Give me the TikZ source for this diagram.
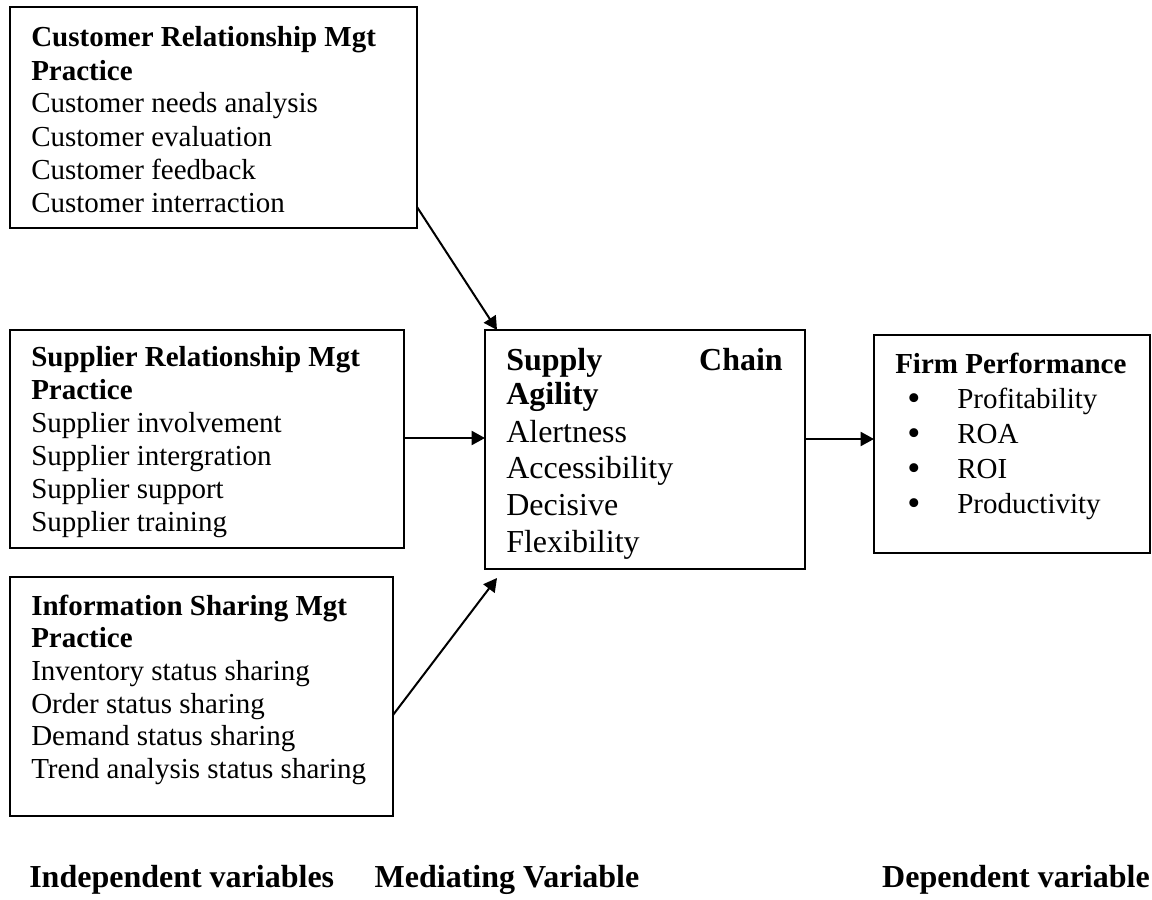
\documentclass[tikz,border=0pt]{standalone}
\usepackage{fontspec}
\setmainfont{Liberation Serif}
\usetikzlibrary{arrows.meta,calc}
\begin{document}
\begin{tikzpicture}[x=0.75pt,y=-0.75pt,
  box/.style={draw,line width=1.5pt,inner sep=0,outer sep=0,anchor=north west},
  txt/.style={inner sep=0,anchor=base west,font=\fontsize{21.75}{26}\selectfont},
  hd/.style={txt,font=\fontsize{21.75}{26}\selectfont\bfseries},
  bul/.style={inner sep=0,anchor=base,font=\fontsize{28}{30}\selectfont},
  mtxt/.style={inner sep=0,anchor=base west,font=\fontsize{24}{28}\selectfont},
  mhd/.style={mtxt,font=\fontsize{24}{28}\selectfont\bfseries},
  lab/.style={inner sep=0,font=\fontsize{24}{28}\selectfont\bfseries},
  arr/.style={line width=1.5pt,-{Triangle[length=10pt,width=10.5pt]}}]
\useasboundingbox (0,0) rectangle (1152,899);
% boxes
\node[box,minimum width=305.25pt,minimum height=165.75pt] (crm) at (10,7) {};
\node[box,minimum width=295.5pt,minimum height=163.5pt] (srm) at (10,330) {};
\node[box,minimum width=287.25pt,minimum height=179.25pt] (ism) at (10,577) {};
\node[box,minimum width=240pt,minimum height=179.25pt] (mid) at (485,330) {};
\node[box,minimum width=207pt,minimum height=163.5pt] (firm) at (874,335) {};
% CRM text
\node[hd] (crm1) at (31,47) {Customer Relationship Mgt};
\node[hd] (crm2) at (31,80) {Practice};
\node[txt] (crm3) at (31,113) {Customer needs analysis};
\node[txt] (crm4) at (31,146) {Customer evaluation};
\node[txt] (crm5) at (31,179) {Customer feedback};
\node[txt] (crm6) at (31,212) {Customer interraction};
% SRM text
\node[hd] (srm1) at (31,366) {Supplier Relationship Mgt};
\node[hd] (srm2) at (31,399) {Practice};
\node[txt] (srm3) at (31,432) {Supplier involvement};
\node[txt] (srm4) at (31,465) {Supplier intergration};
\node[txt] (srm5) at (31,498) {Supplier support};
\node[txt] (srm6) at (31,531) {Supplier training};
% ISM text
\node[hd] (ism1) at (31,615) {Information Sharing Mgt};
\node[hd] (ism2) at (31,647.7) {Practice};
\node[txt] (ism3) at (31,680.4) {Inventory status sharing};
\node[txt] (ism4) at (31,713.1) {Order status sharing};
\node[txt] (ism5) at (31,745.8) {Demand status sharing};
\node[txt] (ism6) at (31,778.5) {Trend analysis status sharing};
% Mid text
\node[mhd] (mid1) at (506,370) {Supply};
\node[mhd,anchor=base east] (mid1b) at (783,370) {Chain};
\node[mhd] (mid2) at (506,404) {Agility};
\node[mtxt] (mid3) at (506,442) {Alertness};
\node[mtxt] (mid4) at (506,478) {Accessibility};
\node[mtxt] (mid5) at (506,515) {Decisive};
\node[mtxt] (mid6) at (506,552) {Flexibility};
% Firm text
\node[hd] (firm1) at (895,373) {Firm Performance};
\node[bul] (b1) at (914,410) {•};
\node[txt] (firm2) at (957,408) {Profitability};
\node[bul] (b2) at (914,445) {•};
\node[txt] (firm3) at (957,443) {ROA};
\node[bul] (b3) at (914,480) {•};
\node[txt] (firm4) at (957,478) {ROI};
\node[bul] (b4) at (914,515) {•};
\node[txt] (firm5) at (957,513) {Productivity};
% bottom labels
\node[lab,anchor=base west] (iv) at (29,887) {Independent variables};
\node[lab,anchor=base] (mv) at (507,887) {Mediating Variable};
\node[lab,anchor=base east] (dv) at (1150,887) {Dependent variable};
% arrows
\draw[arr] ($(crm.south east)+(0,-21)$) -- ($(mid.north west)+(12,0)$);
\draw[arr] ($(srm.east)+(0,-1)$) coordinate (a2s) -- (a2s -| mid.west);
\draw[arr] ($(ism.east)+(0,18.5)$) -- ($(mid.south west)+(12,9)$);
\draw[arr] ($(mid.east)+(0,-10.5)$) coordinate (a4s) -- (a4s -| firm.west);
\end{tikzpicture}
\end{document}
